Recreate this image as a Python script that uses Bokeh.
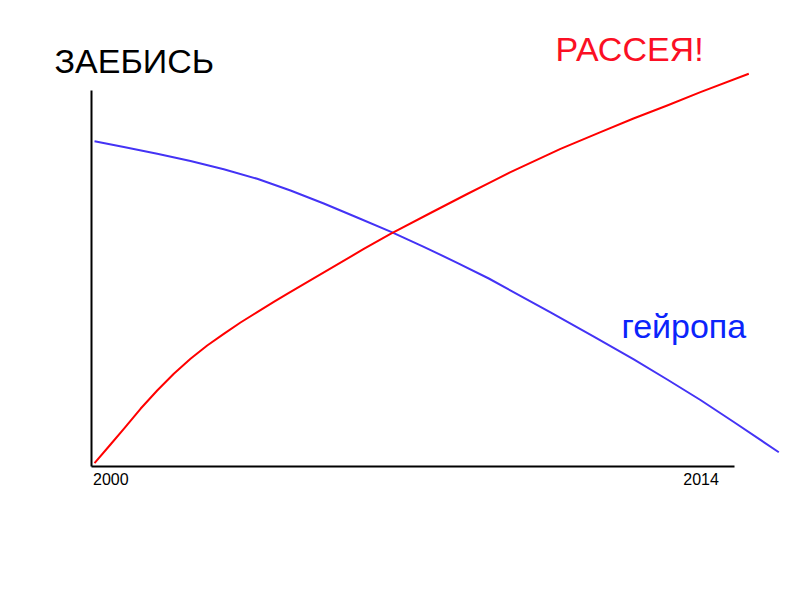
from bokeh.plotting import figure
from bokeh.models import Range1d, FixedTicker, Label, LinearAxis
from bokeh.embed import file_html
from bokeh.resources import INLINE

# ---- data ----
red_years = [2000.036, 2000.415, 2000.731, 2001.127, 2001.523, 2001.917, 2002.313,
             2002.709, 2003.102, 2003.499, 2003.895, 2004.288, 2004.606, 2005.000,
             2006.423, 2007.057, 2008.005, 2008.876, 2009.388, 2009.903, 2011.089,
             2012.038, 2012.820, 2013.620, 2014.408, 2015.555]
red_values = [0.88, 5.85, 10.03, 15.35, 20.21, 24.65, 28.64,
              32.18, 35.29, 38.30, 41.04, 43.80, 45.93, 48.51,
              57.85, 61.84, 67.42, 72.47, 75.35, 78.27, 84.49,
              88.91, 92.55, 96.01, 99.55, 104.44]

blue_years = [2000.036, 2000.731, 2001.523, 2002.313, 2003.102, 2003.895, 2004.685,
              2005.474, 2006.266, 2007.057, 2007.846, 2008.639, 2009.388, 2010.852,
              2011.879, 2012.827, 2013.620, 2014.408, 2015.199, 2016.267]
blue_values = [86.52, 84.97, 83.19, 81.25, 79.04, 76.52, 73.40,
               69.95, 66.22, 62.45, 58.43, 54.18, 50.00, 40.96,
               34.57, 28.46, 23.14, 17.69, 11.84, 3.80]

tick_years = [2000, 2014]
title_text = "ЗАЕБИСЬ"
red_label = "РАССЕЯ!"
blue_label = "гейропа"

FONT = "Liberation Sans"

# ---- scales: the frame fills the whole canvas ----
W, H = 790, 590
px_per_year = 42.16
x_start = 2000 - 92.5 / px_per_year
x_end = x_start + W / px_per_year
px_per_unit = 3.76
y_end = 466 / px_per_unit
y_start = y_end - H / px_per_unit

p = figure(width=W, height=H, output_backend="svg", toolbar_location=None,
           x_range=Range1d(x_start, x_end), y_range=Range1d(y_start, y_end),
           min_border=0, x_axis_type=None, y_axis_type=None)
p.outline_line_color = None
p.background_fill_color = "white"
p.border_fill_color = "white"
p.xgrid.visible = False
p.ygrid.visible = False

axis_x0 = 2000 - 1.5 / px_per_year          # where the two axes meet
axis_x1 = 2000 + (734 - 92.5) / px_per_year  # right end of the x axis

xaxis = LinearAxis(ticker=FixedTicker(ticks=[]), fixed_location=0,
                   bounds=(axis_x0, axis_x1))
xaxis.axis_line_color = "black"
xaxis.axis_line_width = 2
xaxis.major_tick_line_color = None
xaxis.minor_tick_line_color = None
p.add_layout(xaxis, "below")

yaxis = LinearAxis(ticker=FixedTicker(ticks=[]), fixed_location=axis_x0, bounds=(0, 100))
yaxis.axis_line_color = "black"
yaxis.axis_line_width = 2
yaxis.major_tick_line_color = None
yaxis.minor_tick_line_color = None
p.add_layout(yaxis, "left")

p.line(blue_years, blue_values, line_color="#4433f5", line_width=2, line_join="round")
p.line(red_years, red_values, line_color="#ff0000", line_width=2, line_join="round")

# tick labels, left-aligned at their year
for yr in tick_years:
    p.add_layout(Label(x=yr, y=0, y_offset=-12, text=str(yr), text_font=FONT,
                       text_font_size="16px", text_color="black",
                       text_baseline="alphabetic", text_align="left"))

p.add_layout(Label(x=54, y=H - 60, x_units="screen", y_units="screen", text=title_text,
                   text_font=FONT, text_font_size="34px", text_color="black",
                   text_baseline="alphabetic", text_align="left"))
p.add_layout(Label(x=555, y=H - 48, x_units="screen", y_units="screen", text=red_label,
                   text_font=FONT, text_font_size="34px", text_color="#fb0f24",
                   text_baseline="alphabetic", text_align="left"))
p.add_layout(Label(x=621, y=H - 325, x_units="screen", y_units="screen", text=blue_label,
                   text_font=FONT, text_font_size="34px", text_color="#0b24fb",
                   text_baseline="alphabetic", text_align="left"))

open("out.html", "w").write(file_html(p, INLINE))
